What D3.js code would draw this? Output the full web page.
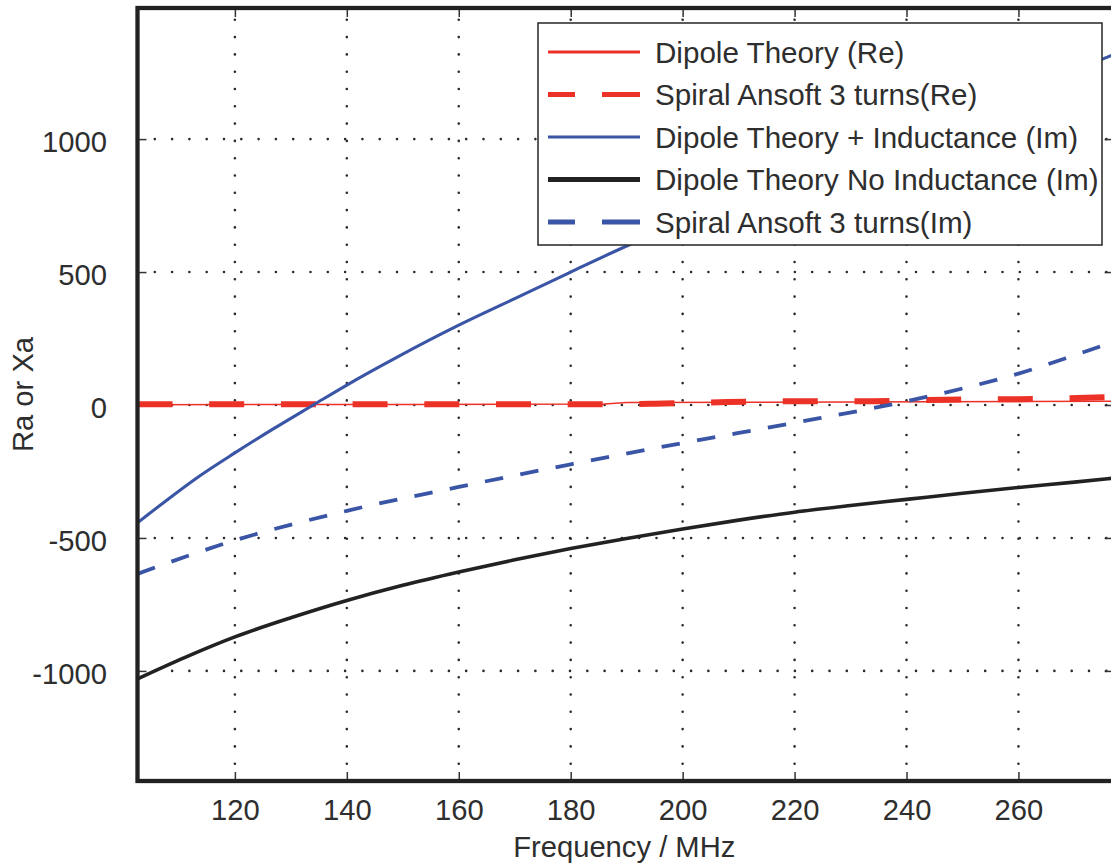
<!DOCTYPE html>
<html><head><meta charset="utf-8">
<script src="https://cdn.jsdelivr.net/npm/d3@7"></script>
<style>html,body{margin:0;padding:0;background:#fff;overflow:hidden}</style>
</head><body>
<svg id="chart" width="1111" height="863"></svg>
<script>
// ---- data ----
const xTicks = [120, 140, 160, 180, 200, 220, 240, 260];
const yTicks = [-1000, -500, 0, 500, 1000];

const freqDipoleRe = [102.6, 150, 186, 190, 230, 277];
const dipoleRe     = [1, 2, 4, 9, 11, 14];

const freqSpiralRe = [102.6, 140, 185, 195, 208, 221, 234, 247, 260, 272, 277];
const spiralRe     = [3, 3, 3, 5, 11, 14, 14, 20, 22, 27, 30];

const freqDipoleInd = [102.6, 108, 113, 120, 127, 134, 140, 149, 160, 170, 180, 190, 200, 220, 240, 260, 277];
const dipoleInd     = [-443, -355, -277, -180, -88, 0, 75, 180, 300, 400, 500, 598, 688, 860, 1022, 1175, 1318];

const freqDipoleNoInd = [102.6, 111, 120, 130, 140, 150, 160, 170, 180, 190, 200, 210, 220, 230, 240, 250, 260, 270, 277];
const dipoleNoInd     = [-1030, -950, -872, -800, -735, -678, -628, -582, -540, -502, -466, -433, -403, -378, -355, -332, -310, -290, -275];

const freqSpiralIm = [102.6, 120, 140, 160, 180, 200, 220, 240, 250, 260, 270, 277];
const spiralIm     = [-635, -509, -398, -308, -223, -143, -67, 14, 62, 118, 187, 238];

const legendLabels = [
  "Dipole Theory (Re)",
  "Spiral Ansoft 3 turns(Re)",
  "Dipole Theory + Inductance (Im)",
  "Dipole Theory No Inductance (Im)",
  "Spiral Ansoft 3 turns(Im)"
];

// ---- layout ----
const svg = d3.select("#chart");
const L = 137.5, R = 1113.6, T = 8, B = 781;
const x = d3.scaleLinear().domain([102.6, 277]).range([L, R]);
const y = d3.scaleLinear().domain([-1414, 1493]).range([B, T]);
const FONT = "'Liberation Sans', Arial, sans-serif";
const RED = "#ec3127", BLUE = "#3a55a6", BLACK = "#222";

const series = [
  {f: freqDipoleRe, v: dipoleRe, color: RED, w: 1.5, dash: null, curve: d3.curveLinear,
   lw: 3, ldash: null},
  {f: freqSpiralRe, v: spiralRe, color: RED, w: 6, dash: "35,36.7", curve: d3.curveMonotoneX,
   lw: 5, ldash: "27,27,38,100"},
  {f: freqDipoleInd, v: dipoleInd, color: BLUE, w: 3.1, dash: null, curve: d3.curveMonotoneX,
   lw: 3, ldash: null},
  {f: freqDipoleNoInd, v: dipoleNoInd, color: BLACK, w: 3.6, dash: null, curve: d3.curveMonotoneX,
   lw: 5, ldash: null},
  {f: freqSpiralIm, v: spiralIm, color: BLUE, w: 3.8, dash: "18.5,17.5", curve: d3.curveMonotoneX,
   lw: 5, ldash: "27,27,38,100"}
];

// clip
svg.append("defs").append("clipPath").attr("id", "clip")
  .append("rect").attr("x", L).attr("y", T).attr("width", R - L).attr("height", B - T);

// grid
const grid = svg.append("g").attr("stroke", "#2a2a2a").attr("stroke-width", 2.6)
  .attr("stroke-linecap", "round").attr("stroke-dasharray", "0,17.3");
grid.selectAll("line.v").data(xTicks).join("line").attr("class", "v")
  .attr("x1", d => x(d)).attr("x2", d => x(d)).attr("y1", B).attr("y2", T);
grid.selectAll("line.h").data(yTicks).join("line").attr("class", "h")
  .attr("y1", d => y(d)).attr("y2", d => y(d)).attr("x1", L).attr("x2", R);

// axes
function styleAxis(g) {
  g.select(".domain").remove();
  g.selectAll(".tick line").attr("stroke", "#333").attr("stroke-width", 1.5);
  g.selectAll(".tick text").attr("fill", "#2e2e2e").style("font-family", FONT).style("font-size", "29.2px");
}
const plain = d => String(d);
svg.append("g").attr("transform", `translate(0,${B})`)
  .call(d3.axisBottom(x).tickValues(xTicks).tickFormat(plain).tickSizeInner(-9).tickSizeOuter(0).tickPadding(18.5))
  .call(styleAxis);
svg.append("g").attr("transform", `translate(0,${T})`)
  .call(d3.axisTop(x).tickValues(xTicks).tickSizeInner(-9).tickSizeOuter(0).tickFormat(""))
  .call(styleAxis);
svg.append("g").attr("transform", `translate(${L},0)`)
  .call(d3.axisLeft(y).tickValues(yTicks).tickFormat(plain).tickSizeInner(-9).tickSizeOuter(0).tickPadding(30.5))
  .call(styleAxis)
  .selectAll(".tick text").attr("dy", "0.42em");
svg.append("g").attr("transform", `translate(${R},0)`)
  .call(d3.axisRight(y).tickValues(yTicks).tickSizeInner(-9).tickSizeOuter(0).tickFormat(""))
  .call(styleAxis);

// lines
const plot = svg.append("g").attr("clip-path", "url(#clip)");
series.forEach(s => {
  const pts = s.f.map((f, i) => [f, s.v[i]]);
  const line = d3.line().x(d => x(d[0])).y(d => y(d[1])).curve(s.curve);
  plot.append("path").datum(pts).attr("d", line)
    .attr("fill", "none").attr("stroke", s.color).attr("stroke-width", s.w)
    .attr("stroke-dasharray", s.dash).attr("stroke-linejoin", "round");
});

// frame
svg.append("rect").attr("x", L).attr("y", T).attr("width", R - L).attr("height", B - T)
  .attr("fill", "none").attr("stroke", "#222").attr("stroke-width", 4.3);

// axis titles
svg.append("text").attr("x", (L + 1111) / 2).attr("y", 857).attr("text-anchor", "middle")
  .style("font-family", FONT).style("font-size", "29.2px").attr("fill", "#2e2e2e")
  .text("Frequency / MHz");
svg.append("text").attr("transform", `translate(33,${(T + B) / 2}) rotate(-90)`)
  .attr("text-anchor", "middle")
  .style("font-family", FONT).style("font-size", "29.2px").attr("fill", "#2e2e2e")
  .text("Ra or Xa");

// legend
const lg = svg.append("g").attr("transform", "translate(538,23)");
lg.append("rect").attr("width", 564).attr("height", 222).attr("fill", "#fff")
  .attr("stroke", "#333").attr("stroke-width", 1.6);
const rowY = d3.scalePoint().domain(d3.range(legendLabels.length)).range([29, 199]);
legendLabels.forEach((lab, i) => {
  const s = series[i];
  const cy = rowY(i);
  lg.append("line").attr("x1", 10).attr("x2", 102).attr("y1", cy).attr("y2", cy)
    .attr("stroke", s.color).attr("stroke-width", s.lw).attr("stroke-dasharray", s.ldash);
  lg.append("text").attr("x", 117).attr("y", cy + 10.5)
    .style("font-family", FONT).style("font-size", "29.6px").attr("fill", "#2e2e2e").text(lab);
});
</script>
</body></html>
